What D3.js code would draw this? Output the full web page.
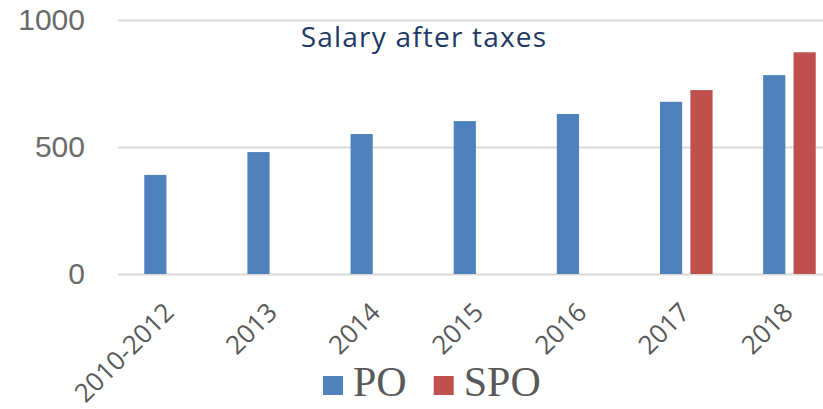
<html>
<meta charset="utf-8" />
<head>
<title>Salary after taxes</title>
<script src="https://cdn.jsdelivr.net/npm/d3@7/dist/d3.min.js"></script>
<style>
	body { margin: 0; background: #fff; }
	svg { display: block; }
</style>
<script>
// data
let categories = ['2010-2012', '2013', '2014', '2015', '2016', '2017', '2018'];
let series = ['PO', 'SPO'];
let poValues = [390, 480, 551, 602, 630, 678, 783];
let spoValues = [null, null, null, null, null, 724, 873];
let yTicks = [0, 500, 1000];
let seriesColors = ['#4f81bd', '#c0504d'];
let titleText = 'Salary after taxes';

window.onload = function() {
	let svg = d3.select('svg');

	let yScale = d3.scaleLinear().domain([0, 1000]).range([274, 20]);
	let xScale = d3.scaleBand().domain(categories).range([119, 841])
		.paddingInner(0.49).paddingOuter(0.245);
	let xInner = d3.scaleBand().domain(series).range([0, xScale.bandwidth()]).paddingInner(0.27);
	let colorScale = d3.scaleOrdinal().domain(series).range(seriesColors);

	// gridlines + y labels
	let yAxis = d3.axisLeft(yScale).tickValues(yTicks).tickFormat(d3.format('d'))
		.tickSize(-(841 - 118)).tickPadding(33);
	let yG = svg.append('g').attr('transform', 'translate(118,0)').call(yAxis);
	yG.select('.domain').remove();
	yG.selectAll('.tick line').attr('stroke', '#d9d9d9').attr('stroke-width', 2);
	yG.selectAll('.tick text')
		.attr('fill', '#6b6b6b')
		.style('font-family', '"Liberation Sans", Arial, sans-serif')
		.style('font-size', '30px');

	// bars
	let rows = categories.map((c, i) => ({ cat: c, PO: poValues[i], SPO: spoValues[i] }));
	let groups = svg.append('g').selectAll('g').data(rows).join('g')
		.attr('transform', (d) => 'translate(' + xScale(d.cat) + ',0)');
	groups.selectAll('rect')
		.data((d) => series.map((s) => ({ key: s, value: d[s] })).filter((e) => e.value != null))
		.join('rect')
		.attr('x', (e) => xInner(e.key))
		.attr('width', xInner.bandwidth())
		.attr('y', (e) => yScale(e.value))
		.attr('height', (e) => yScale(0) - yScale(e.value))
		.attr('fill', (e) => colorScale(e.key));

	// category labels, rotated
	let xAxis = d3.axisBottom(xScale).tickSize(0).tickPadding(0);
	let xG = svg.append('g').attr('transform', 'translate(0,274)').call(xAxis);
	xG.select('.domain').remove();
	xG.selectAll('.tick text')
		.attr('fill', '#595959')
		.attr('text-anchor', 'end')
		.attr('dy', 0)
		.attr('transform', 'translate(5,40) rotate(-45)')
		.style('font-family', '"Open Sans", sans-serif')
		.style('font-size', '26px');

	// title
	svg.append('text')
		.attr('x', 424)
		.attr('y', 47)
		.attr('text-anchor', 'middle')
		.attr('fill', '#203864')
		.style('font-family', '"Open Sans", sans-serif')
		.style('font-size', '28px')
		.style('letter-spacing', '1.2px')
		.text(titleText);

	// legend
	let legend = svg.append('g');
	let lx = 323;
	series.forEach((s, i) => {
		legend.append('rect')
			.attr('x', lx).attr('y', 376)
			.attr('width', 20).attr('height', 19)
			.attr('fill', colorScale(s));
		let t = legend.append('text')
			.attr('x', lx + 30).attr('y', 396)
			.attr('fill', '#595959')
			.style('font-family', '"Liberation Serif", "Times New Roman", serif')
			.style('font-size', '42px')
			.text(s);
		lx = lx + 30 + t.node().getComputedTextLength() + 27;
	});
}
</script>
</head>
<body>
<svg width="823" height="409"></svg>
</body>
</html>
